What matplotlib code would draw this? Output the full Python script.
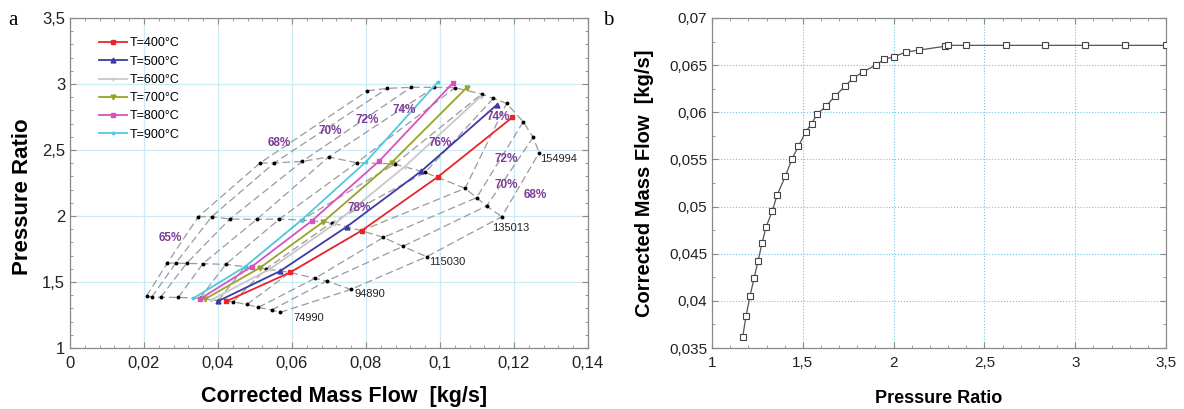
import matplotlib

matplotlib.use("Agg")

import matplotlib.pyplot as plt
from matplotlib.ticker import MultipleLocator, FuncFormatter

plt.rcParams["font.family"] = ["Liberation Sans", "DejaVu Sans"]

# =========================
# Data (a): compressor map, speed lines [rpm]
# =========================
speed_names = ["74990", "94890", "115030", "135013", "154994"]

flow_74990 = [0.0207, 0.0221, 0.0245, 0.0293, 0.0351, 0.0401, 0.0441, 0.0478, 0.0509, 0.0545, 0.0568]
pr_74990 = [1.394, 1.386, 1.384, 1.384, 1.376, 1.360, 1.350, 1.330, 1.308, 1.288, 1.270]

flow_94890 = [0.0263, 0.0286, 0.0315, 0.0359, 0.0421, 0.0473, 0.0530, 0.0595, 0.0662, 0.0694, 0.0759]
pr_94890 = [1.644, 1.644, 1.641, 1.639, 1.634, 1.616, 1.600, 1.573, 1.528, 1.508, 1.444]

flow_115030 = [0.0347, 0.0383, 0.0432, 0.0505, 0.0566, 0.0626, 0.0707, 0.0788, 0.0847, 0.0900, 0.0964]
pr_115030 = [1.995, 1.995, 1.977, 1.975, 1.977, 1.970, 1.949, 1.889, 1.838, 1.770, 1.692]

flow_135013 = [0.0514, 0.0552, 0.0628, 0.0699, 0.0775, 0.0878, 0.0960, 0.1068, 0.1099, 0.1126, 0.1167]
pr_135013 = [2.402, 2.402, 2.414, 2.447, 2.404, 2.394, 2.330, 2.210, 2.139, 2.076, 1.995]

flow_154994 = [0.0804, 0.0858, 0.0922, 0.0985, 0.1041, 0.1113, 0.1144, 0.1180, 0.1225, 0.1252, 0.1268]
pr_154994 = [2.949, 2.967, 2.975, 2.975, 2.972, 2.924, 2.891, 2.853, 2.714, 2.596, 2.480]

speed_flows = [flow_74990, flow_94890, flow_115030, flow_135013, flow_154994]
speed_prs = [pr_74990, pr_94890, pr_115030, pr_135013, pr_154994]

# operating lines for turbine inlet temperature
t_names = ["T=400°C", "T=500°C", "T=600°C", "T=700°C", "T=800°C", "T=900°C"]
flow_t400 = [0.0423, 0.0595, 0.0788, 0.0995, 0.1196]
pr_t400 = [1.355, 1.573, 1.889, 2.298, 2.748]
flow_t500 = [0.0400, 0.0568, 0.0748, 0.0950, 0.1153]
pr_t500 = [1.355, 1.583, 1.919, 2.341, 2.840]
flow_t600 = [0.0382, 0.0540, 0.0715, 0.0905, 0.1110]
pr_t600 = [1.365, 1.598, 1.940, 2.375, 2.905]
flow_t700 = [0.0365, 0.0514, 0.0685, 0.0869, 0.1072]
pr_t700 = [1.371, 1.609, 1.957, 2.404, 2.972]
flow_t800 = [0.0351, 0.0491, 0.0653, 0.0836, 0.1034]
pr_t800 = [1.371, 1.616, 1.962, 2.417, 3.005]
flow_t900 = [0.0333, 0.0473, 0.0626, 0.0800, 0.0995]
pr_t900 = [1.376, 1.616, 1.970, 2.411, 3.017]

t_flows = [flow_t400, flow_t500, flow_t600, flow_t700, flow_t800, flow_t900]
t_prs = [pr_t400, pr_t500, pr_t600, pr_t700, pr_t800, pr_t900]

# =========================
# Data (b): corrected mass flow vs pressure ratio
# =========================
pressure_ratio = [1.169, 1.187, 1.209, 1.231, 1.253, 1.275, 1.297, 1.331, 1.358, 1.403,
                  1.441, 1.476, 1.515, 1.548, 1.579, 1.630, 1.676, 1.734, 1.775, 1.833,
                  1.901, 1.947, 2.002, 2.070, 2.139, 2.282, 2.297, 2.396, 2.619, 2.835,
                  3.055, 3.275, 3.500]
mass_flow = [0.0362, 0.0384, 0.0405, 0.0424, 0.0442, 0.0461, 0.0478, 0.0495, 0.0512, 0.0532,
             0.0551, 0.0564, 0.0579, 0.0588, 0.0598, 0.0607, 0.0617, 0.0628, 0.0636, 0.0643,
             0.0650, 0.0656, 0.0659, 0.0664, 0.0666, 0.0670, 0.0671, 0.0671, 0.0671, 0.0671,
             0.0671, 0.0671, 0.0671]

# =========================
# Styles
# =========================
t_colors = ["#e8262a", "#3a3aa8", "#c8c8c8", "#9aa22a", "#d850c0", "#50c8e0"]
t_markers = ["s", "^", "+", "v", "s", "."]
grid_gray = "#9a9a9a"
purple = "#7d3c98"


def comma(v, pos):
    return f"{v:g}".replace(".", ",")


fig = plt.figure(figsize=(11.84, 4.09), dpi=100)
ax1 = fig.add_axes([0.0591, 0.149, 0.4375, 0.807])
ax2 = fig.add_axes([0.6014, 0.149, 0.3834, 0.807])

# =========================
# Panel a
# =========================
# speed lines
for fl, pr in zip(speed_flows, speed_prs):
    ax1.plot(fl, pr, color=grid_gray, lw=0.9, ls=(0, (6, 3)), zorder=2)
    ax1.plot(fl, pr, ls="none", marker="o", ms=1.8, color="black", zorder=3)

# lines joining matching points of the speed lines
n_pts = len(flow_74990)
for j in range(n_pts):
    ax1.plot([fl[j] for fl in speed_flows], [pr[j] for pr in speed_prs],
             color=grid_gray, lw=0.9, ls=(0, (6, 3)), zorder=2)

speed_label_pos = [(0.0604, 1.225), (0.0770, 1.41), (0.0971, 1.65), (0.1140, 1.907), (0.1270, 2.43)]
for name, (xx, yy) in zip(speed_names, speed_label_pos):
    ax1.text(xx, yy, name, fontsize=8, color="#222222", ha="left", va="center")

for name, fl, pr, c, m in zip(t_names, t_flows, t_prs, t_colors, t_markers):
    ax1.plot(fl, pr, color=c, lw=1.3, marker=m, ms=3.5, mfc=c, mec=c, label=name, zorder=4)

eff_labels = [("65%", 0.0270, 1.83), ("68%", 0.0566, 2.55), ("70%", 0.0703, 2.646),
              ("72%", 0.0804, 2.727), ("74%", 0.0903, 2.803), ("74%", 0.1158, 2.752),
              ("76%", 0.1000, 2.556), ("78%", 0.0782, 2.058), ("72%", 0.1180, 2.43),
              ("70%", 0.1178, 2.235), ("68%", 0.1257, 2.16)]
for txt, xx, yy in eff_labels:
    ax1.text(xx, yy, txt, fontsize=8.5, color=purple, fontweight="bold",
             ha="center", va="center", zorder=5)

ax1.set_xlim(0, 0.14)
ax1.set_ylim(1, 3.5)
ax1.xaxis.set_major_locator(MultipleLocator(0.02))
ax1.xaxis.set_minor_locator(MultipleLocator(0.004))
ax1.yaxis.set_major_locator(MultipleLocator(0.5))
ax1.yaxis.set_minor_locator(MultipleLocator(0.1))
ax1.xaxis.set_major_formatter(FuncFormatter(comma))
ax1.yaxis.set_major_formatter(FuncFormatter(comma))
ax1.grid(True, which="major", color="#cdebf5", lw=0.9, ls="-")
ax1.set_axisbelow(True)
ax1.set_xlabel("Corrected Mass Flow  [kg/s]", fontsize=15.5, fontweight="bold")
ax1.set_ylabel("Pressure Ratio", fontsize=16, fontweight="bold")
ax1.xaxis.set_label_coords(0.53, -0.115)
ax1.yaxis.set_label_coords(-0.072, 0.46)
ax1.legend(loc="upper left", bbox_to_anchor=(0.035, 0.975), frameon=False, fontsize=9,
           labelspacing=0.5, handlelength=2.2, handletextpad=0.2)

# =========================
# Panel b
# =========================
ax2.plot(pressure_ratio, mass_flow, color="#555555", lw=0.9, marker="s", ms=4.5,
         mfc="white", mec="#444444", mew=0.8, zorder=3)
ax2.set_xlim(1, 3.5)
ax2.set_ylim(0.035, 0.07)
ax2.xaxis.set_major_locator(MultipleLocator(0.5))
ax2.xaxis.set_minor_locator(MultipleLocator(0.1))
ax2.yaxis.set_major_locator(MultipleLocator(0.005))
ax2.yaxis.set_minor_locator(MultipleLocator(0.0025))
ax2.xaxis.set_major_formatter(FuncFormatter(comma))
ax2.yaxis.set_major_formatter(FuncFormatter(comma))
ax2.grid(True, which="major", color="#6cc8e0", lw=0.8, ls=":")
ax2.set_axisbelow(True)
ax2.set_xlabel("Pressure Ratio", fontsize=13, fontweight="bold", labelpad=14)
ax2.set_ylabel("Corrected Mass Flow  [kg/s]", fontsize=14.5, fontweight="bold", labelpad=11)

for ax, lsize in ((ax1, 12), (ax2, 11)):
    for sp in ax.spines.values():
        sp.set_color("#8a8a8a")
        sp.set_linewidth(0.9)
    ax.tick_params(which="both", direction="in", top=True, right=True, color="#8a8a8a")
    ax.tick_params(which="major", length=4, labelsize=lsize, labelcolor="#222222")
    ax.tick_params(which="minor", length=2.5)
    ax.tick_params(axis="x", which="major", pad=6)

fig.text(0.007, 0.94, "a", fontsize=15, family="Liberation Serif")
fig.text(0.509, 0.94, "b", fontsize=15, family="Liberation Serif")

fig.savefig("out.png", dpi=100)
plt.close(fig)
